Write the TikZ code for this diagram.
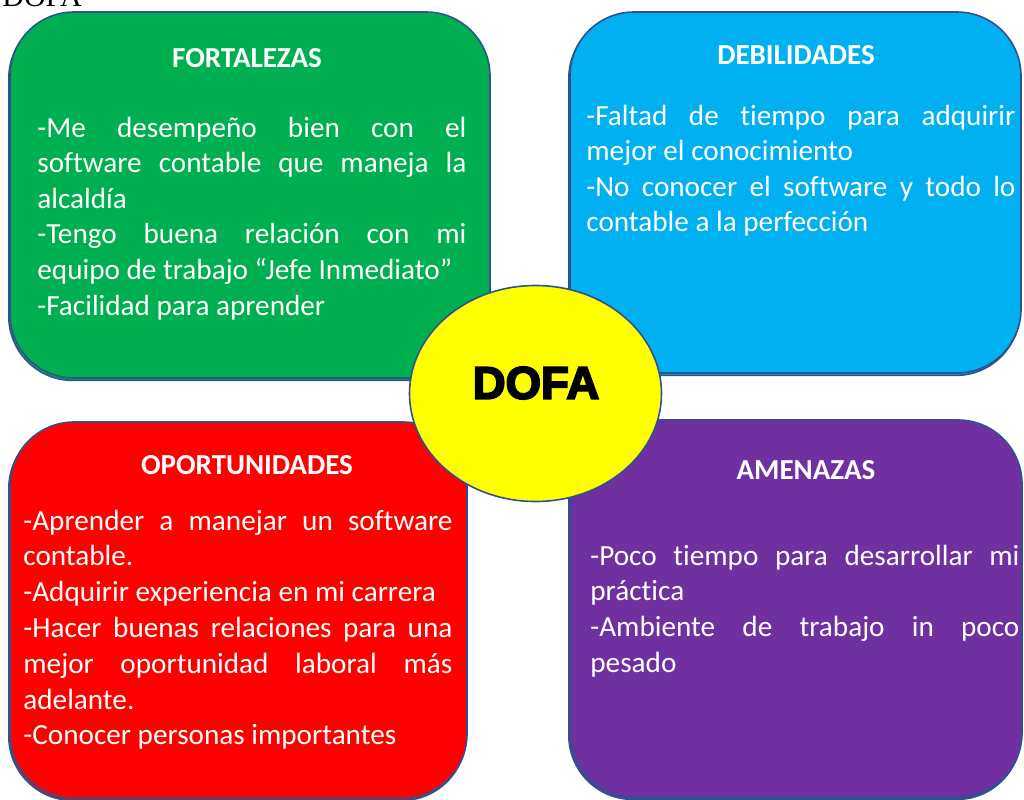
\documentclass[tikz,border=0pt]{standalone}
\usepackage{fontspec}
\newfontfamily\calibri[Ligatures=NoCommon]{Carlito}
\newfontfamily\gordo[FakeBold=4]{Liberation Sans Bold}
\newfontfamily\serifa{Liberation Serif}
\usetikzlibrary{shapes.geometric,shadows}
\definecolor{borde}{HTML}{2F528F}
\definecolor{verde}{HTML}{00B050}
\definecolor{celeste}{HTML}{00B0F0}
\definecolor{rojo}{HTML}{FF0000}
\definecolor{morado}{HTML}{7030A0}
\definecolor{amarillo}{HTML}{FFFF00}
\hyphenpenalty=10000
\exhyphenpenalty=10000
\tolerance=10000
\tikzset{
cuadro/.style={
    rectangle,
    draw=borde,
    line width=0.8pt,
    rounded corners=32pt,
    inner sep=0pt,
    copy shadow={shadow xshift=-0.6pt, shadow yshift=-1.2pt}
},
titulo/.style={
    anchor=base,
    text=white,
    inner sep=0pt,
    font=\calibri\bfseries\fontsize{14.5}{17}\selectfont
},
cuerpo/.style={
    anchor=base west,
    text=white,
    inner sep=0pt,
    text width=214.5pt,
    align=justify,
    font=\calibri\fontsize{14.6}{17.8}\selectfont
},
centro/.style={
    ellipse,
    draw=borde,
    line width=0.8pt,
    fill=amarillo,
    inner sep=0pt,
    minimum width=126pt,
    minimum height=108pt
}}

\begin{document}
\begin{tikzpicture}[x=0.5pt, y=-0.5pt]
\useasboundingbox (0,0) rectangle (1024,799);
\clip (0,0) rectangle (1024,799);
% titulo cortado arriba
\node[anchor=base west, inner sep=0pt, font=\serifa\fontsize{15}{18}\selectfont] (encabezado) at (2,6) {DOFA};

% cuadros
\node[cuadro, fill=verde, minimum width=240pt, minimum height=183pt]     (fort) at (250,195)   {};
\node[cuadro, fill=celeste, minimum width=225.5pt, minimum height=180.5pt] (debi) at (795.5,192.5) {};
\node[cuadro, fill=rojo, minimum width=228.5pt, minimum height=188pt]    (opor) at (238.5,610) {};
\node[cuadro, fill=morado, minimum width=226pt, minimum height=188.5pt]  (amen) at (796,608.5) {};

% titulos
\node[titulo] (tfort) at (247,67)  {FORTALEZAS};
\node[titulo] (tdebi) at (796,64)  {DEBILIDADES};
\node[titulo] (topor) at (247,474) {OPORTUNIDADES};
\node[titulo] (tamen) at (806,479) {AMENAZAS};

% textos
\node[cuerpo] (xfort) at (37,137) {-Me desempeño bien con el\linebreak software contable que maneja la\linebreak alcaldía\par
-Tengo buena relación con mi\linebreak equipo de trabajo “Jefe Inmediato”\par
-Facilidad para aprender};
\node[cuerpo] (xdebi) at (586,125) {-Faltad de tiempo para adquirir\linebreak mejor el conocimiento\par
-No conocer el software y todo lo\linebreak contable a la perfección};
\node[cuerpo, font=\calibri\fontsize{14.6}{17.9}\selectfont] (xopor) at (23,530) {-Aprender a manejar un software\linebreak contable.\par
-Adquirir experiencia en mi carrera\par
-Hacer buenas relaciones para una\linebreak mejor oportunidad laboral más\linebreak adelante.\par
-Conocer personas importantes};
\node[cuerpo, font=\calibri\fontsize{14.6}{17.9}\selectfont] (xamen) at (590,565) {-Poco tiempo para desarrollar mi\linebreak práctica\par
-Ambiente de trabajo in poco\linebreak pesado};

% centro
\node[centro] (dofa) at (535.5,393.5) {};
\node[inner sep=0pt, font=\gordo\fontsize{22.8}{26}\selectfont] (dofatxt) at (536,383) {DOFA};
\end{tikzpicture}
\end{document}
